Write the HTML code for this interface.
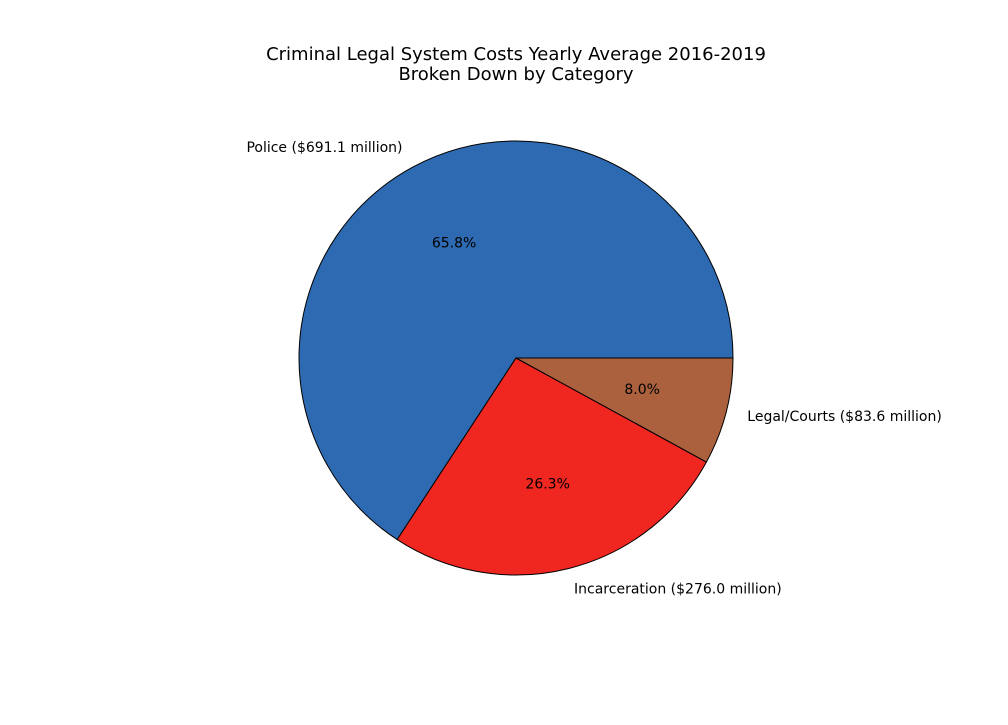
<!DOCTYPE html>
<html><head><meta charset="utf-8"><style>
body{margin:0;background:#fff;}
svg text{font-family:"DejaVu Sans","Liberation Sans",sans-serif;}
</style></head><body>
<svg id="chart" width="1008" height="720" xmlns="http://www.w3.org/2000/svg">
<rect width="1008" height="720" fill="#fff"/>
<text x="516" y="60" text-anchor="middle" font-size="18" fill="#000">Criminal Legal System Costs Yearly Average 2016-2019</text>
<text x="516" y="80" text-anchor="middle" font-size="18" fill="#000">Broken Down by Category</text>
<g id="slices"></g>
</svg>
<script>
const categories = ["Police", "Incarceration", "Legal/Courts"];
const values = [691.1, 276.0, 83.6];
const colors = ["#2e6ab1", "#f02720", "#ab613e"];
const cx = 516, cy = 358, R = 217;
const g = document.getElementById('slices');
const ns = "http://www.w3.org/2000/svg";
const total = values.reduce((a,b)=>a+b,0);
let start = 0;
function pt(a, r){ return [cx + r*Math.cos(a), cy - r*Math.sin(a)]; }
values.forEach((v,i)=>{
  const frac = v/total;
  const end = start + frac*2*Math.PI;
  const [x1,y1] = pt(start,R), [x2,y2] = pt(end,R);
  const large = frac > 0.5 ? 1 : 0;
  const p = document.createElementNS(ns,'path');
  p.setAttribute('d',`M${cx},${cy} L${x1},${y1} A${R},${R} 0 ${large} 0 ${x2},${y2} Z`);
  p.setAttribute('fill',colors[i]); p.setAttribute('stroke','#000'); p.setAttribute('stroke-width','1');
  
  
  g.appendChild(p);
  const mid = (start+end)/2;
  const [lx,ly] = pt(mid, R*1.1);
  const t = document.createElementNS(ns,'text');
  t.setAttribute('x',lx); t.setAttribute('y',ly+4);
  t.setAttribute('font-size','14');
  t.setAttribute('text-anchor', Math.cos(mid) < 0 ? 'end' : 'start');
  t.textContent = `${categories[i]} ($${v.toFixed(1)} million)`;
  
  
  g.appendChild(t);
  const [px,py] = pt(mid, R*0.6);
  const t2 = document.createElementNS(ns,'text');
  t2.setAttribute('x',px); t2.setAttribute('y',py+4);
  t2.setAttribute('font-size','14'); t2.setAttribute('text-anchor','middle');
  t2.textContent = (frac*100).toFixed(1)+'%';
  
  
  g.appendChild(t2);
  start = end;
});
</script>
</body></html>
